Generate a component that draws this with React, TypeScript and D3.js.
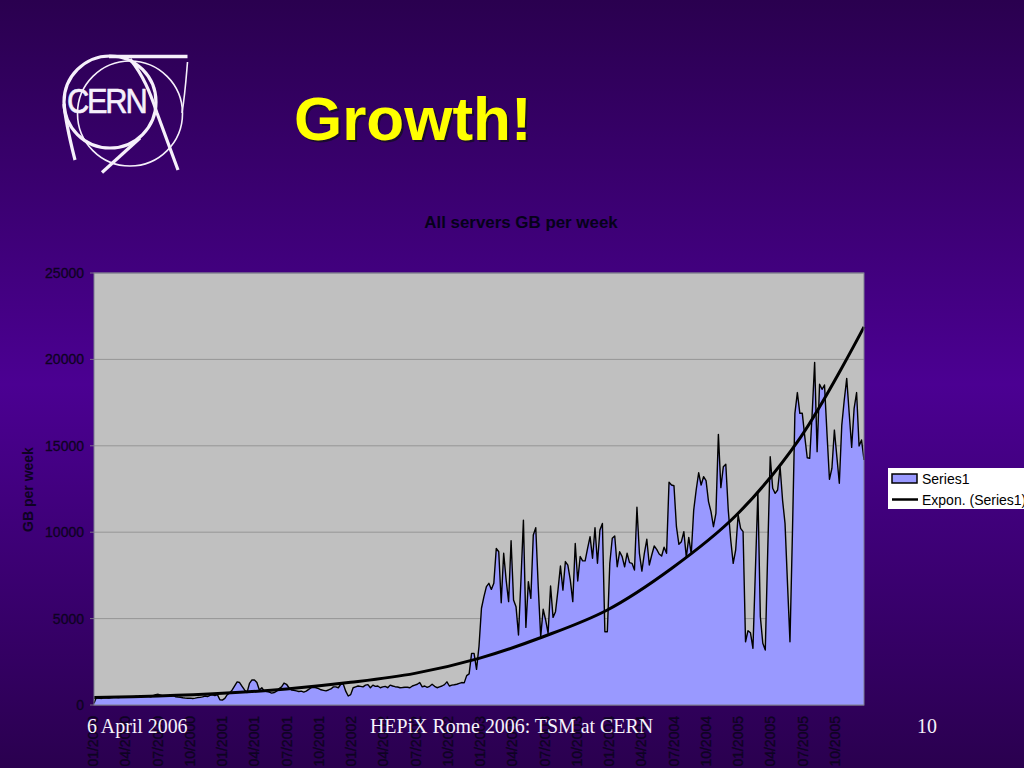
import * as d3 from "d3";

const WIDTH = 1024;
const HEIGHT = 768;
const PLOT = { left: 94, right: 864, top: 273, bottom: 705 };

const yTicks = [0, 5000, 10000, 15000, 20000, 25000];

// quarterly labels along the bottom, the page cuts them off
const xLabels = [
    "01/2000", "04/2000", "07/2000", "10/2000",
    "01/2001", "04/2001", "07/2001", "10/2001",
    "01/2002", "04/2002", "07/2002", "10/2002",
    "01/2003", "04/2003", "07/2003", "10/2003",
    "01/2004", "04/2004", "07/2004", "10/2004",
    "01/2005", "04/2005", "07/2005", "10/2005",
];

// GB per week, one value a week
const weekly2000to2002 = [
    100, 470, 400, 380, 430, 420, 400, 430, 440, 450,
    430, 460, 470, 450, 440, 480, 470, 490, 460, 480,
    510, 500, 520, 470, 540, 600, 620, 570, 520, 500,
    510, 500, 560, 480, 460, 450, 420, 400, 390, 400,
    380, 400, 430, 440, 470, 520, 490, 560, 590, 540,
    600, 300, 280, 380, 600, 700, 870, 1100, 1340, 1300,
    1080, 870, 720, 1250, 1450, 1450, 1300, 870, 1000, 800,
    780, 750, 690, 720, 800, 950, 1050, 1270, 1200, 1000,
    870, 850, 820, 780, 800, 750, 800, 900, 1000, 1020,
    1000, 950, 880, 850, 820, 870, 930, 1050, 1050, 1000,
    1200, 1220, 800, 520, 600, 1000, 1050, 1100, 1080, 1050,
    1150, 1180, 1000, 1150, 1080, 1100, 1000, 1050, 1080, 1000,
    1150, 1100, 1060, 1040, 1000, 1010, 1030, 1030, 1000, 1100,
    1150, 1200, 1300, 1050, 1100, 1020, 1080, 1200, 1080, 1000,
    1050, 1100, 1180, 1340, 1100, 1150, 1170, 1200, 1250, 1300,
    1280, 1700, 1800, 2990, 2990, 2060, 3400,
];
const weekly2003 = [
    5600, 6270, 6850, 7040, 6690, 7040, 9060, 8870, 5920, 8780,
    7230, 5980, 9510, 6080, 5690, 4050, 7230, 10700, 4490, 7140,
    6170, 9840, 10260, 6850, 3950, 5540, 4920, 4150, 6890, 5070,
    5400, 6650, 8040, 6650, 8300, 8100, 7230, 5980, 9350, 7180,
    8590, 8340, 8340, 9060, 9740, 8490, 10260, 8200, 10130, 10510,
];
const weekly2004 = [
    4240, 4240, 8200, 9650, 9780, 8000, 8870, 8590, 8000, 8780,
    8240, 8200, 7810, 11440, 8780, 7750, 8780, 9590, 8100, 8680,
    9200, 9010, 8740, 8620, 9130, 8780, 12890, 12730, 12690, 10320,
    9300, 9450, 10030, 8550, 9700, 8740, 11280, 12440, 13440, 12730,
    13210, 12980, 11770, 11190, 10320, 11090, 15660, 12580, 13790, 13930,
    11280, 9550,
];
const weekly2005 = [
    8200, 8970, 11000, 10220, 10030, 3660, 4300, 4180, 3280, 7810,
    12340, 5110, 3570, 3180, 8970, 14370, 12540, 12250, 12440, 13790,
    11860, 10510, 7040, 3660, 9930, 16880, 18080, 16880, 16880, 15530,
    14310, 14280, 16880, 19830, 14660, 18560, 18270, 18520, 15720, 13060,
    13700, 15910, 14370, 12830, 16200, 17650, 18900, 16880, 14910, 17170,
    18080, 14990, 15340, 14180,
];
const series1 = [...weekly2000to2002, ...weekly2003, ...weekly2004, ...weekly2005];

// exponential trend, read every 26 weeks
const trendWeeks = [0, 26, 52, 78, 104, 130, 156, 182, 208, 234, 260, 286, 312];
const trendValues = [430, 520, 675, 926, 1310, 1830, 2700, 3950, 5500, 7900, 10950, 15430, 21880];

const SANS = "'Liberation Sans', Arial, sans-serif";
const SERIF = "'Liberation Serif', 'Times New Roman', serif";
const TICK_COLOR = "#0e0322";
const FOOT_COLOR = "#f6f2fb";
const LOGO_COLOR = "#f6f0fb";

const CernLogo = () => (
    <g fill="none" stroke={LOGO_COLOR} strokeLinecap="butt">
        <circle cx={110} cy={102} r={46} strokeWidth={3.2} />
        <circle cx={130} cy={113.5} r={52.5} strokeWidth={1.6} />
        <line x1={109} y1={56.5} x2={187.5} y2={56.5} strokeWidth={3.5} />
        <path d="M187.5 62 C186 80 185 95 182 113" strokeWidth={1.6} />
        <path d="M64 104 C66 125 70 140 75 160" strokeWidth={3.2} />
        <path d="M130 59 C143 75 150 92 157 113 L178 170" strokeWidth={3.2} />
        <line x1={102} y1={172.5} x2={140} y2={138} strokeWidth={3.2} />
        <text
            transform="translate(67,113) scale(0.88,1)"
            fill={LOGO_COLOR}
            stroke={LOGO_COLOR}
            strokeWidth={0.6}
            fontFamily={SANS}
            fontSize={35}
            letterSpacing={-2.5}
        >
            CERN
        </text>
    </g>
);

export default function App() {
    const xScale = d3
        .scaleLinear()
        .domain([0, series1.length - 1])
        .range([PLOT.left, PLOT.right]);
    const yScale = d3
        .scaleLinear()
        .domain([0, 25000])
        .range([PLOT.bottom, PLOT.top]);
    const labelScale = d3.scalePoint<string>().domain(xLabels).range([93, 835]);

    const areaPath = d3
        .area<number>()
        .x((_, i) => xScale(i))
        .y0(yScale(0))
        .y1((d) => yScale(d))(series1);
    const linePath = d3
        .line<number>()
        .x((_, i) => xScale(i))
        .y((d) => yScale(d))(series1);
    const trendPath = d3
        .line<number>()
        .x((_, i) => xScale(trendWeeks[i]))
        .y((d) => yScale(d))
        .curve(d3.curveCatmullRom)(trendValues);

    return (
        <svg
            width={WIDTH}
            height={HEIGHT}
            style={{ position: "absolute", left: 0, top: 0, display: "block" }}
        >
            <defs>
                <linearGradient id="slideBg" x1="0" y1="0" x2="0" y2="1">
                    <stop offset="0" stopColor="#2a004f" />
                    <stop offset="0.5" stopColor="#4b0092" />
                    <stop offset="1" stopColor="#2a004f" />
                </linearGradient>
            </defs>
            <rect width={WIDTH} height={HEIGHT} fill="url(#slideBg)" />

            <CernLogo />

            <text x={296} y={142} fontFamily={SANS} fontWeight="bold" fontSize={62} fill="#1a0a30">
                Growth!
            </text>
            <text x={294} y={140} fontFamily={SANS} fontWeight="bold" fontSize={62} fill="#ffff00">
                Growth!
            </text>

            <text
                x={521}
                y={228}
                textAnchor="middle"
                fontFamily={SANS}
                fontWeight="bold"
                fontSize={16.9}
                fill="#06021a"
            >
                All servers GB per week
            </text>

            <rect
                x={PLOT.left}
                y={PLOT.top}
                width={PLOT.right - PLOT.left}
                height={PLOT.bottom - PLOT.top}
                fill="#c0c0c0"
            />
            {yTicks.map((t) => (
                <g key={t}>
                    <line
                        x1={PLOT.left - 4}
                        x2={PLOT.right}
                        y1={yScale(t)}
                        y2={yScale(t)}
                        stroke="#8a8a8a"
                        strokeWidth={0.8}
                    />
                    <text
                        x={84}
                        y={yScale(t) + 5}
                        textAnchor="end"
                        fontFamily={SANS}
                        fontSize={14}
                        fill={TICK_COLOR}
                        stroke={TICK_COLOR}
                        strokeWidth={0.3}
                    >
                        {t}
                    </text>
                </g>
            ))}
            <path d={areaPath ?? ""} fill="#9999ff" />
            <path d={linePath ?? ""} fill="none" stroke="#000" strokeWidth={1.4} strokeLinejoin="round" />
            <path d={trendPath ?? ""} fill="none" stroke="#000" strokeWidth={3} />
            <rect
                x={PLOT.left}
                y={PLOT.top}
                width={PLOT.right - PLOT.left}
                height={PLOT.bottom - PLOT.top}
                fill="none"
                stroke="#7c7c90"
            />

            <text
                transform="translate(33,489.5) rotate(-90)"
                textAnchor="middle"
                fontFamily={SANS}
                fontWeight="bold"
                fontSize={14}
                fill={TICK_COLOR}
            >
                GB per week
            </text>

            {xLabels.map((label) => (
                <text
                    key={label}
                    transform={`translate(${(labelScale(label) ?? 0) + 5},716) rotate(-90)`}
                    textAnchor="end"
                    fontFamily={SANS}
                    fontSize={14}
                    fill={TICK_COLOR}
                    stroke={TICK_COLOR}
                    strokeWidth={0.3}
                >
                    {label}
                </text>
            ))}

            <rect x={888} y={468} width={140} height={41} fill="#fff" />
            <rect x={892} y={474} width={25} height={9} fill="#9999ff" stroke="#000" strokeWidth={1.5} />
            <line x1={892} x2={918} y1={499.5} y2={499.5} stroke="#000" strokeWidth={2.5} />
            <text x={922} y={484} fontFamily={SANS} fontSize={14} fill="#000">
                Series1
            </text>
            <text x={922} y={505} fontFamily={SANS} fontSize={14} fill="#000">
                Expon. (Series1)
            </text>

            <g fontFamily={SERIF} fontSize={19.9} fill={FOOT_COLOR}>
                <text x={87} y={733}>6 April 2006</text>
                <text x={511.5} y={733} textAnchor="middle">HEPiX Rome 2006: TSM at CERN</text>
                <text x={937} y={733} textAnchor="end">10</text>
            </g>
        </svg>
    );
}
